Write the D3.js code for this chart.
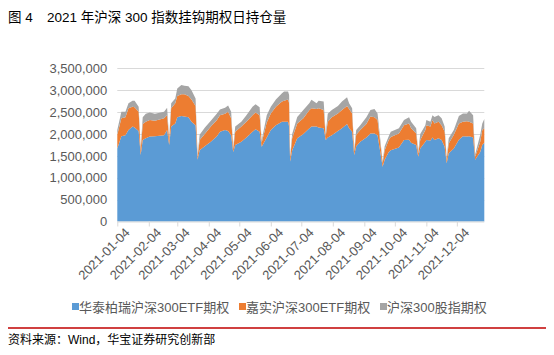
<!DOCTYPE html>
<html>
<head>
<meta charset="utf-8">
<script src="https://cdn.jsdelivr.net/npm/d3@7"></script>
<style>
  html, body { margin: 0; padding: 0; background: #fff; }
  svg { display: block; }
  text { font-family: "Liberation Sans", Arial, "Noto Sans CJK SC", sans-serif; }
</style>
</head>
<body>
<svg id="chart" width="554" height="355"></svg>
<script>
const dates = ["2021-01-04","2021-01-08","2021-01-12","2021-01-15","2021-01-19","2021-01-21","2021-01-25","2021-01-27","2021-01-29",
"2021-02-01","2021-02-05","2021-02-10","2021-02-19","2021-02-22","2021-02-24","2021-02-26",
"2021-03-02","2021-03-04","2021-03-08","2021-03-11","2021-03-15","2021-03-18","2021-03-22","2021-03-24","2021-03-26","2021-03-31",
"2021-04-06","2021-04-12","2021-04-15","2021-04-20","2021-04-23","2021-04-26","2021-04-28","2021-04-30",
"2021-05-06","2021-05-11","2021-05-17","2021-05-20","2021-05-24","2021-05-26","2021-05-31",
"2021-06-04","2021-06-09","2021-06-15","2021-06-17","2021-06-21","2021-06-22","2021-06-23","2021-06-25","2021-06-30",
"2021-07-06","2021-07-12","2021-07-14","2021-07-19","2021-07-21","2021-07-26","2021-07-28","2021-07-30",
"2021-08-03","2021-08-09","2021-08-13","2021-08-18","2021-08-20","2021-08-23","2021-08-25","2021-08-27","2021-08-31",
"2021-09-06","2021-09-10","2021-09-14","2021-09-17","2021-09-22","2021-09-24","2021-09-28","2021-09-30",
"2021-10-08","2021-10-13","2021-10-18","2021-10-20","2021-10-25","2021-10-27","2021-10-29",
"2021-11-03","2021-11-04","2021-11-08","2021-11-10","2021-11-12","2021-11-16","2021-11-19","2021-11-22","2021-11-24","2021-11-26",
"2021-12-01","2021-12-06","2021-12-10","2021-12-14","2021-12-16","2021-12-20","2021-12-22","2021-12-27","2021-12-29","2021-12-31"];

// 华泰柏瑞沪深300ETF期权
const huatai = [1670000,1950000,1970000,2090000,2170000,2150000,2070000,1520000,1860000,
1900000,1940000,1950000,1970000,2090000,1750000,2170000,
2240000,2380000,2410000,2400000,2380000,2280000,2200000,1410000,1630000,1720000,
1820000,1950000,2050000,2090000,2070000,1970000,1590000,1750000,
1820000,1920000,2050000,2110000,2050000,1710000,1920000,
2090000,2200000,2280000,2280000,2280000,2170000,1370000,1620000,1900000,
2000000,2130000,2170000,2170000,2150000,2130000,1860000,1920000,
1970000,2070000,2130000,2230000,2130000,2050000,1520000,1720000,1820000,
1920000,2010000,2010000,1970000,1250000,1410000,1590000,1630000,
1690000,1860000,1870000,1800000,1750000,1480000,1670000,
1820000,1860000,1850000,1920000,1860000,1900000,1860000,1710000,1330000,1560000,
1670000,1870000,1950000,1940000,1950000,1920000,1410000,1590000,1750000,1800000];

// 嘉实沪深300ETF期权
const jiashi = [310000,410000,410000,500000,450000,460000,440000,100000,370000,
380000,380000,350000,390000,340000,100000,420000,
460000,490000,500000,510000,490000,510000,440000,70000,230000,280000,
350000,370000,380000,370000,440000,390000,60000,300000,
350000,360000,380000,380000,380000,90000,340000,
380000,420000,460000,480000,510000,530000,80000,280000,340000,
360000,420000,420000,400000,440000,420000,90000,360000,
410000,400000,420000,410000,440000,420000,80000,260000,270000,
310000,390000,370000,350000,80000,220000,270000,300000,
320000,340000,370000,330000,260000,70000,190000,
270000,340000,320000,400000,380000,380000,340000,340000,70000,220000,
310000,370000,330000,350000,330000,320000,70000,230000,340000,330000];

// 沪深300股指期权
const hs300 = [110000,150000,130000,110000,140000,150000,110000,60000,150000,
180000,170000,160000,150000,170000,50000,110000,
110000,170000,210000,190000,220000,210000,170000,40000,120000,140000,
130000,150000,130000,140000,140000,150000,50000,120000,
110000,150000,190000,190000,180000,50000,170000,
150000,170000,190000,210000,180000,190000,50000,100000,150000,
190000,160000,190000,130000,170000,190000,50000,180000,
170000,170000,190000,200000,130000,120000,50000,110000,110000,
150000,150000,190000,150000,40000,90000,90000,120000,
120000,120000,140000,150000,120000,50000,140000,
110000,120000,110000,110000,150000,150000,160000,120000,50000,120000,
110000,170000,190000,180000,250000,190000,50000,160000,150000,210000];

const seriesNames = ["华泰柏瑞沪深300ETF期权", "嘉实沪深300ETF期权", "沪深300股指期权"];
const colors = ["#5B9BD5", "#ED7D31", "#A5A5A5"];
const yTicks = [0, 500000, 1000000, 1500000, 2000000, 2500000, 3000000, 3500000];
const xTickLabels = ["2021-01-04","2021-02-04","2021-03-04","2021-04-04","2021-05-04","2021-06-04",
  "2021-07-04","2021-08-04","2021-09-04","2021-10-04","2021-11-04","2021-12-04"];

const parse = d3.timeParse("%Y-%m-%d");
const rows = dates.map((d, i) => ({ date: parse(d), s0: huatai[i], s1: jiashi[i], s2: hs300[i] }));

const svg = d3.select("#chart");
const x = d3.scaleTime().domain([parse("2021-01-04"), parse("2021-12-31")]).range([117.3, 484.3]);
const y = d3.scaleLinear().domain([0, 3500000]).range([221.5, 68.3]);

// gridlines
svg.append("g").selectAll("line").data(yTicks.filter(v => v > 0)).join("line")
  .attr("x1", 117.3).attr("x2", 484.3)
  .attr("y1", d => Math.round(y(d)) + 0.5).attr("y2", d => Math.round(y(d)) + 0.5)
  .attr("stroke", "#D9D9D9").attr("stroke-width", 1);

// stacked areas
const stack = d3.stack().keys(["s0", "s1", "s2"]);
const layers = stack(rows);
const area = d3.area().x(d => x(d.data.date)).y0(d => y(d[0])).y1(d => y(d[1]));
svg.append("g").selectAll("path").data(layers).join("path")
  .attr("d", area).attr("fill", (d, i) => colors[i]);

// x axis
const xAxis = d3.axisBottom(x)
  .tickValues(xTickLabels.map(parse))
  .tickFormat(d3.timeFormat("%Y-%m-%d"))
  .tickSizeOuter(0).tickSize(5);
const gx = svg.append("g").attr("transform", "translate(0," + 221.5 + ")").call(xAxis);
gx.select(".domain").attr("stroke", "#D9D9D9").attr("d", "M117.3,0.5H484.3");
gx.selectAll(".tick line").attr("stroke", "#D9D9D9");
gx.selectAll(".tick text")
  .attr("fill", "#595959").attr("font-size", "13px")
  .attr("text-anchor", "end")
  .attr("transform", "translate(4,3) rotate(-45)")
  .attr("dy", "0.35em").attr("y", 8).attr("x", 0);

// y axis labels
const yAxis = d3.axisLeft(y).tickValues(yTicks).tickFormat(d3.format(",")).tickSize(0).tickPadding(10);
const gy = svg.append("g").attr("transform", "translate(117.3,0)").call(yAxis);
gy.select(".domain").remove();
gy.selectAll(".tick text").attr("fill", "#595959").attr("font-size", "13px");

// title
svg.append("text").attr("x", 8).attr("y", 22).attr("font-size", "13.5px").attr("fill", "#000").text("图 4");
svg.append("text").attr("x", 47).attr("y", 22).attr("font-size", "13.5px").attr("fill", "#000")
  .text("2021 年沪深 300 指数挂钩期权日持仓量");

// legend
const legendX = [72, 239, 380];
const lg = svg.append("g");
seriesNames.forEach((n, i) => {
  lg.append("rect").attr("x", legendX[i]).attr("y", 303).attr("width", 7).attr("height", 7).attr("fill", colors[i]);
  lg.append("text").attr("x", legendX[i] + 7).attr("y", 311.5).attr("font-size", "13px").attr("fill", "#595959").text(n);
});

// bottom rule and source
svg.append("line").attr("x1", 8).attr("x2", 546).attr("y1", 328).attr("y2", 328)
  .attr("stroke", "#C00000").attr("stroke-width", 1.5);
svg.append("text").attr("x", 8).attr("y", 344).attr("font-size", "12px").attr("fill", "#000")
  .text("资料来源：Wind，华宝证券研究创新部");
</script>
</body>
</html>
